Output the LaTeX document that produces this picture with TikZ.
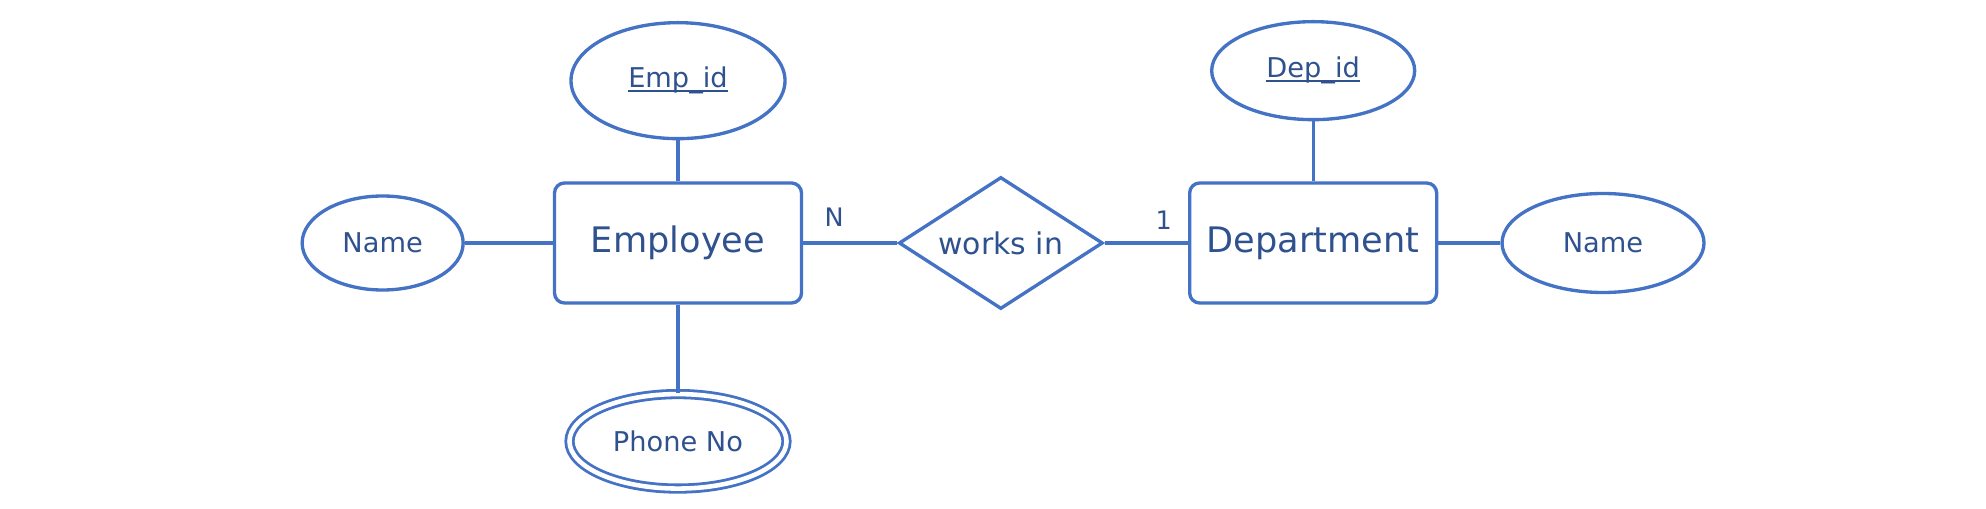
\documentclass[tikz,border=0pt]{standalone}
\usepackage{fontspec}
\setmainfont{DejaVu Sans}
\usetikzlibrary{shapes.geometric, positioning}
\definecolor{erline}{RGB}{68,114,196}
\definecolor{ertext}{RGB}{47,82,143}
\newcommand{\keyline}[1]{\setbox0\hbox{#1}\rlap{\rule[-2.4pt]{\wd0}{1pt}}\box0}
\tikzstyle{entity} = [rectangle, rounded corners=0.2cm, minimum width=4.94cm, minimum height=2.4cm, text centered, draw=erline, line width=1.9pt, text=ertext, font=\fontsize{20}{24}\selectfont]
\tikzstyle{attr} = [ellipse, inner sep=0pt, text centered, draw=erline, line width=1.9pt, text=ertext, font=\fontsize{15.5}{18}\selectfont]
\tikzstyle{relation} = [diamond, aspect=1.55, inner sep=0pt, minimum width=4.08cm, minimum height=2.64cm, text centered, draw=erline, line width=1.9pt, text=ertext, font=\fontsize{17}{20}\selectfont]
\tikzstyle{link} = [draw=erline, line width=1.9pt]
\tikzstyle{card} = [text=ertext, font=\fontsize{14.5}{17}\selectfont]

\begin{document}
\begin{tikzpicture}[node distance=1.5cm]
    \useasboundingbox (0,0) rectangle (39.72,10.16);
    \node (emp) [entity] at (13.56,5.30) {Employee};
    \node (works) [relation, right=1.88cm of emp] {works in};
    \node (dept) [entity, right=1.67cm of works] {Department};

    \node (empid) [attr, minimum width=4.28cm, minimum height=2.32cm, above=0.82cm of emp] {\keyline{Emp\_id}};
    \node (empname) [attr, minimum width=3.22cm, minimum height=1.88cm, left=1.76cm of emp] {Name};
    \node (phone) [attr, double, double distance=2.6pt, line width=1.6pt, minimum width=4.34cm, minimum height=1.89cm, below=1.76cm of emp] {Phone No};
    \node (depid) [attr, minimum width=4.06cm, minimum height=1.96cm, above=1.2cm of dept] {\keyline{Dep\_id}};
    \node (depname) [attr, minimum width=4.04cm, minimum height=1.98cm, right=1.24cm of dept] {Name};

    \draw [link] (emp) -- node [card, pos=0.33, yshift=0.52cm] {N} (works);
    \draw [link] (works) -- node [card, pos=0.71, yshift=0.46cm] {1} (dept);
    \draw [link] (empid) -- (emp);
    \draw [link] (empname) -- (emp);
    \draw [link] (emp) -- (phone);
    \draw [link] (depid) -- (dept);
    \draw [link] (dept) -- (depname);
\end{tikzpicture}
\end{document}
